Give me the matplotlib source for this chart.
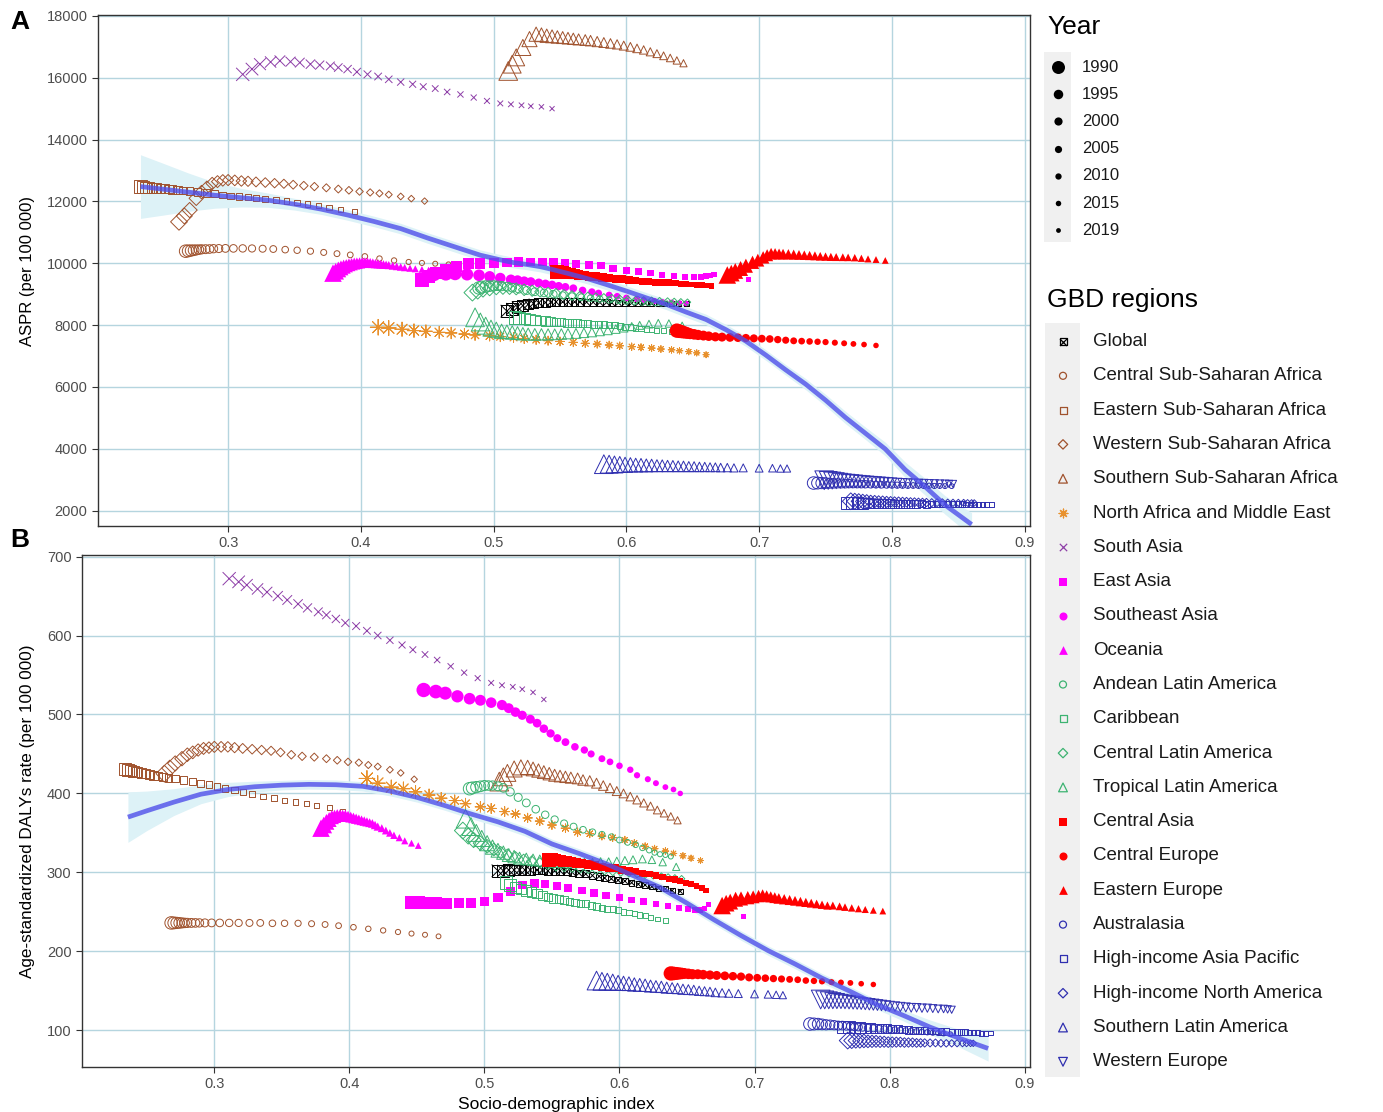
import numpy as np
import matplotlib.pyplot as plt
from matplotlib.patches import Rectangle

plt.rcParams['font.family'] = ['Liberation Sans', 'DejaVu Sans']

years = list(range(1990, 2020))

# ---- data (SDI, ASPR, DALY rate per region, 1990-2019) ----
global_sdi = [0.510, 0.514, 0.518, 0.522, 0.526, 0.530, 0.534, 0.539, 0.543, 0.547, 0.552, 0.556, 0.561, 0.565, 0.570, 0.575, 0.580, 0.585, 0.589, 0.594, 0.599, 0.604, 0.609, 0.614, 0.619, 0.624, 0.629, 0.634, 0.639, 0.645]
global_aspr = [8450, 8520, 8580, 8630, 8670, 8700, 8720, 8730, 8740, 8750, 8750, 8750, 8750, 8750, 8740, 8740, 8730, 8730, 8720, 8720, 8720, 8710, 8710, 8710, 8700, 8700, 8700, 8700, 8700, 8700]
global_daly = [302, 302, 303, 303, 303, 303, 303, 303, 303, 302, 302, 302, 301, 300, 299, 298, 296, 295, 293, 292, 290, 289, 287, 285, 284, 282, 280, 279, 277, 276]

cssa_sdi = [0.268, 0.270, 0.272, 0.274, 0.276, 0.278, 0.280, 0.283, 0.286, 0.289, 0.293, 0.298, 0.304, 0.311, 0.318, 0.326, 0.334, 0.343, 0.352, 0.362, 0.372, 0.382, 0.392, 0.403, 0.414, 0.425, 0.436, 0.446, 0.456, 0.466]
cssa_aspr = [10390, 10400, 10410, 10420, 10430, 10440, 10450, 10455, 10460, 10470, 10475, 10480, 10480, 10480, 10478, 10470, 10460, 10440, 10420, 10390, 10350, 10310, 10270, 10220, 10150, 10090, 10040, 10010, 9985, 9965]
cssa_daly = [236, 236, 236, 236, 236, 236, 236, 236, 236, 236, 236, 236, 236, 236, 236, 236, 236, 235.5, 235.5, 235.5, 235, 234, 232.5, 230.5, 228.5, 226.5, 224.5, 222.5, 221, 219]

essa_sdi = [0.234, 0.236, 0.238, 0.240, 0.243, 0.246, 0.249, 0.252, 0.255, 0.258, 0.262, 0.266, 0.271, 0.277, 0.284, 0.290, 0.296, 0.302, 0.308, 0.315, 0.321, 0.328, 0.336, 0.344, 0.352, 0.360, 0.368, 0.376, 0.385, 0.395]
essa_aspr = [12480, 12470, 12460, 12450, 12440, 12430, 12420, 12410, 12400, 12390, 12370, 12350, 12330, 12300, 12270, 12240, 12210, 12180, 12160, 12140, 12110, 12090, 12050, 12010, 11970, 11920, 11860, 11800, 11740, 11680]
essa_daly = [431, 430, 429, 428, 427, 426, 425, 424, 423, 422, 421, 420, 419, 417, 415, 413, 411, 408.5, 406, 404, 402, 399, 396, 394, 391, 389, 387, 385, 382, 377]

wssa_sdi = [0.263, 0.267, 0.271, 0.276, 0.280, 0.284, 0.288, 0.292, 0.296, 0.300, 0.305, 0.310, 0.315, 0.321, 0.328, 0.335, 0.342, 0.349, 0.357, 0.365, 0.374, 0.383, 0.391, 0.399, 0.407, 0.414, 0.421, 0.430, 0.438, 0.448]
wssa_aspr = [11340, 11530, 11720, 12100, 12300, 12450, 12580, 12640, 12680, 12690, 12680, 12660, 12650, 12630, 12610, 12590, 12570, 12540, 12510, 12480, 12440, 12400, 12360, 12320, 12290, 12260, 12220, 12160, 12090, 12010]
wssa_daly = [425, 432, 438, 444, 449, 452, 455, 457, 458, 459, 459, 459, 458, 457, 456, 455, 454, 452, 449, 447, 446, 444, 442, 440, 439, 436, 434, 430, 426, 418]

sssa_sdi = [0.511, 0.514, 0.517, 0.522, 0.527, 0.532, 0.536, 0.540, 0.544, 0.548, 0.552, 0.556, 0.560, 0.564, 0.569, 0.573, 0.578, 0.583, 0.588, 0.593, 0.598, 0.603, 0.608, 0.613, 0.618, 0.623, 0.628, 0.633, 0.638, 0.643]
sssa_aspr = [16220, 16440, 16660, 16980, 17250, 17410, 17390, 17360, 17340, 17320, 17300, 17280, 17260, 17240, 17220, 17200, 17170, 17140, 17110, 17080, 17040, 17000, 16950, 16900, 16840, 16780, 16710, 16640, 16560, 16470]
sssa_daly = [415, 421, 426, 431, 433, 433, 431, 429, 427, 425, 423, 422, 421, 420, 419, 417, 416, 413, 410, 407, 403, 400, 396, 392, 388, 384, 379, 375, 371, 366]

name_sdi = [0.413, 0.421, 0.431, 0.440, 0.449, 0.459, 0.468, 0.478, 0.486, 0.497, 0.505, 0.515, 0.523, 0.532, 0.541, 0.550, 0.560, 0.569, 0.578, 0.587, 0.595, 0.604, 0.611, 0.619, 0.626, 0.634, 0.640, 0.647, 0.653, 0.660]
name_aspr = [7930, 7905, 7865, 7820, 7800, 7765, 7745, 7710, 7680, 7655, 7625, 7600, 7560, 7525, 7495, 7470, 7440, 7410, 7385, 7355, 7330, 7300, 7280, 7255, 7225, 7200, 7170, 7140, 7100, 7040]
name_daly = [419, 413, 408, 406, 402, 398, 394, 391, 387, 383, 381, 377, 374, 369, 365, 360, 356, 351, 349, 346, 344, 341, 337, 333, 330, 327, 324, 321, 318, 315]

sasia_sdi = [0.311, 0.318, 0.324, 0.332, 0.339, 0.347, 0.354, 0.362, 0.369, 0.377, 0.383, 0.390, 0.397, 0.405, 0.413, 0.421, 0.430, 0.439, 0.447, 0.456, 0.465, 0.475, 0.485, 0.495, 0.505, 0.513, 0.521, 0.528, 0.536, 0.544]
sasia_aspr = [16110, 16280, 16440, 16510, 16550, 16520, 16490, 16440, 16410, 16380, 16330, 16280, 16190, 16110, 16040, 15950, 15860, 15790, 15710, 15650, 15540, 15460, 15360, 15250, 15170, 15140, 15110, 15080, 15060, 15000]
sasia_daly = [672, 668, 664, 659, 655, 650, 645, 640, 635, 630, 626, 621, 616, 612, 606, 600, 594, 588, 582, 576, 569, 561, 553, 546, 540, 537, 535, 532, 528, 519]

easia_sdi = [0.446, 0.451, 0.457, 0.464, 0.472, 0.481, 0.490, 0.500, 0.510, 0.519, 0.528, 0.537, 0.545, 0.554, 0.562, 0.572, 0.581, 0.590, 0.600, 0.609, 0.618, 0.627, 0.636, 0.644, 0.651, 0.656, 0.660, 0.663, 0.666, 0.692]
easia_aspr = [9450, 9570, 9680, 9780, 9880, 9990, 9990, 10000, 10020, 10040, 10040, 10040, 10030, 10000, 9970, 9940, 9930, 9840, 9750, 9720, 9690, 9620, 9580, 9560, 9540, 9560, 9580, 9610, 9640, 9470]
easia_daly = [262, 262, 261, 261, 261, 261, 261, 263, 268, 276, 284, 286, 285, 283, 280, 277, 274, 271, 268, 265, 263, 260, 257, 255, 253, 252, 252, 254, 259, 244]

seasia_sdi = [0.455, 0.464, 0.471, 0.480, 0.489, 0.497, 0.505, 0.513, 0.518, 0.523, 0.528, 0.534, 0.539, 0.544, 0.549, 0.554, 0.560, 0.567, 0.574, 0.579, 0.587, 0.593, 0.600, 0.608, 0.613, 0.621, 0.627, 0.634, 0.640, 0.645]
seasia_aspr = [9650, 9660, 9660, 9640, 9610, 9570, 9520, 9470, 9450, 9420, 9400, 9360, 9330, 9300, 9260, 9230, 9190, 9120, 9070, 9030, 8970, 8930, 8880, 8840, 8810, 8780, 8750, 8730, 8710, 8700]
seasia_daly = [531, 529, 527, 523, 520, 518, 515, 512, 508, 503, 499, 494, 489, 482, 476, 470, 465, 459, 455, 450, 444, 440, 435, 430, 423, 418, 413, 408, 405, 400]

oceania_sdi = [0.379, 0.381, 0.383, 0.385, 0.387, 0.389, 0.391, 0.393, 0.395, 0.397, 0.399, 0.401, 0.403, 0.405, 0.407, 0.409, 0.411, 0.413, 0.415, 0.417, 0.419, 0.421, 0.424, 0.427, 0.430, 0.433, 0.437, 0.441, 0.446, 0.451]
oceania_aspr = [9680, 9740, 9800, 9850, 9890, 9920, 9950, 9970, 9990, 10000, 10010, 10020, 10020, 10020, 10010, 10000, 9990, 9980, 9970, 9960, 9950, 9940, 9920, 9900, 9880, 9860, 9840, 9820, 9800, 9780]
oceania_daly = [356, 360, 364, 367, 370, 371, 372, 372, 372, 372, 371, 370, 369, 368, 367, 366, 365, 364, 363, 362, 360, 358, 356, 353, 350, 347, 344, 340, 337, 334]

andean_sdi = [0.489, 0.491, 0.494, 0.497, 0.500, 0.503, 0.506, 0.510, 0.514, 0.519, 0.525, 0.531, 0.538, 0.545, 0.552, 0.559, 0.566, 0.573, 0.580, 0.587, 0.594, 0.600, 0.606, 0.612, 0.617, 0.622, 0.626, 0.630, 0.634, 0.638]
andean_aspr = [9200, 9230, 9250, 9260, 9270, 9270, 9260, 9240, 9210, 9170, 9120, 9080, 9040, 9000, 8960, 8930, 8900, 8870, 8840, 8810, 8790, 8770, 8750, 8730, 8720, 8710, 8700, 8690, 8690, 8680]
andean_daly = [406, 407, 408, 409, 410, 410, 410, 409, 407, 402, 395, 388, 380, 373, 367, 362, 358, 354, 351, 348, 345, 341, 338, 335, 331, 328, 325, 323, 322, 320]

carib_sdi = [0.516, 0.519, 0.523, 0.527, 0.531, 0.535, 0.539, 0.543, 0.547, 0.551, 0.555, 0.559, 0.563, 0.567, 0.571, 0.575, 0.579, 0.583, 0.587, 0.591, 0.595, 0.599, 0.603, 0.607, 0.611, 0.615, 0.619, 0.623, 0.628, 0.634]
carib_aspr = [8250, 8230, 8210, 8190, 8170, 8150, 8130, 8120, 8100, 8090, 8080, 8070, 8060, 8050, 8040, 8030, 8020, 8010, 8000, 7990, 7970, 7950, 7930, 7910, 7890, 7870, 7850, 7830, 7810, 7790]
carib_daly = [287, 284, 281, 279, 277, 275, 273, 271, 269, 267, 266, 265, 263, 262, 261, 260, 258, 257, 255, 254, 253, 252, 250, 249, 248, 246, 245, 243, 241, 239]

clatam_sdi = [0.484, 0.488, 0.492, 0.497, 0.502, 0.507, 0.512, 0.517, 0.523, 0.529, 0.535, 0.541, 0.547, 0.553, 0.559, 0.565, 0.571, 0.577, 0.583, 0.589, 0.595, 0.601, 0.607, 0.613, 0.619, 0.625, 0.631, 0.636, 0.641, 0.646]
clatam_aspr = [9050, 9100, 9150, 9180, 9200, 9200, 9190, 9170, 9140, 9110, 9080, 9050, 9020, 8990, 8960, 8940, 8920, 8900, 8880, 8860, 8840, 8820, 8810, 8800, 8790, 8780, 8770, 8760, 8750, 8740]
clatam_daly = [353, 346, 341, 337, 333, 329, 325, 322, 319, 316, 314, 312, 310, 308, 307, 306, 305, 304, 303, 302, 301, 300, 299, 298, 297, 296, 295, 294, 293, 292]

tlatam_sdi = [0.486, 0.490, 0.494, 0.498, 0.502, 0.506, 0.510, 0.514, 0.518, 0.522, 0.526, 0.531, 0.536, 0.541, 0.546, 0.551, 0.556, 0.562, 0.568, 0.574, 0.580, 0.586, 0.592, 0.598, 0.604, 0.610, 0.617, 0.624, 0.632, 0.642]
tlatam_aspr = [8250, 8100, 7980, 7900, 7850, 7800, 7780, 7760, 7740, 7720, 7710, 7700, 7700, 7700, 7700, 7710, 7720, 7730, 7750, 7770, 7800, 7830, 7870, 7910, 7950, 7990, 8030, 8060, 8050, 7980]
tlatam_daly = [368, 358, 350, 343, 337, 332, 328, 325, 322, 320, 318, 317, 316, 315, 314, 313, 313, 312, 312, 312, 312, 313, 313, 314, 315, 316, 317, 316, 313, 307]

casia_sdi = [0.548, 0.550, 0.552, 0.554, 0.556, 0.558, 0.561, 0.564, 0.568, 0.572, 0.577, 0.582, 0.587, 0.592, 0.597, 0.602, 0.607, 0.612, 0.617, 0.622, 0.627, 0.632, 0.637, 0.641, 0.645, 0.649, 0.653, 0.657, 0.661, 0.664]
casia_aspr = [9720, 9710, 9700, 9690, 9680, 9670, 9650, 9630, 9600, 9580, 9560, 9540, 9520, 9500, 9480, 9460, 9440, 9420, 9400, 9390, 9380, 9370, 9360, 9340, 9330, 9310, 9300, 9290, 9280, 9260]
casia_daly = [316, 316, 316, 315, 315, 314, 314, 313, 312, 311, 310, 309, 307, 306, 305, 303, 302, 301, 299, 298, 296, 294, 292, 291, 289, 287, 285, 283, 280, 277]

ceur_sdi = [0.638, 0.640, 0.642, 0.644, 0.646, 0.648, 0.651, 0.654, 0.658, 0.662, 0.667, 0.672, 0.678, 0.684, 0.690, 0.696, 0.702, 0.708, 0.714, 0.720, 0.726, 0.732, 0.738, 0.744, 0.750, 0.757, 0.764, 0.771, 0.779, 0.788]
ceur_aspr = [7820, 7800, 7780, 7760, 7740, 7720, 7700, 7680, 7660, 7640, 7620, 7610, 7600, 7590, 7580, 7570, 7560, 7550, 7530, 7510, 7490, 7480, 7470, 7460, 7450, 7430, 7410, 7390, 7370, 7340]
ceur_daly = [172, 172, 172, 172, 172, 172, 171.5, 171, 171, 170.5, 170, 169.5, 169, 168.5, 168, 167, 166.5, 166, 165.5, 165, 164.5, 164, 163, 162.5, 162, 161, 160.5, 160, 159, 158]

eeur_sdi = [0.676, 0.679, 0.682, 0.686, 0.690, 0.695, 0.699, 0.703, 0.706, 0.709, 0.712, 0.715, 0.718, 0.722, 0.726, 0.730, 0.734, 0.738, 0.742, 0.746, 0.750, 0.754, 0.758, 0.763, 0.767, 0.772, 0.777, 0.782, 0.788, 0.795]
eeur_aspr = [9620, 9680, 9750, 9830, 9920, 10030, 10100, 10190, 10260, 10310, 10310, 10300, 10295, 10290, 10280, 10270, 10260, 10250, 10240, 10225, 10215, 10205, 10200, 10195, 10190, 10180, 10160, 10140, 10120, 10090]
eeur_daly = [258, 261, 263, 266, 267, 268, 269, 270, 271, 270, 269, 268, 267, 266, 265, 264, 263, 262, 261, 260, 259, 258, 258, 257, 256, 255, 254, 253, 252, 251]

austral_sdi = [0.741, 0.744, 0.747, 0.750, 0.753, 0.756, 0.759, 0.762, 0.765, 0.768, 0.771, 0.774, 0.777, 0.780, 0.784, 0.788, 0.792, 0.796, 0.800, 0.804, 0.808, 0.812, 0.816, 0.820, 0.824, 0.828, 0.832, 0.836, 0.840, 0.845]
austral_aspr = [2890, 2890, 2890, 2890, 2885, 2880, 2880, 2875, 2870, 2870, 2865, 2860, 2855, 2850, 2845, 2840, 2835, 2830, 2825, 2820, 2815, 2810, 2810, 2805, 2800, 2800, 2795, 2795, 2790, 2790]
austral_daly = [108, 108, 108, 107.5, 107, 107, 106.5, 106, 106, 105.5, 105, 104.5, 104, 103.5, 103, 102.5, 102, 101.5, 101, 100.5, 100, 99.5, 99, 98.5, 98, 97.5, 97, 96.5, 96, 95]

hiap_sdi = [0.766, 0.770, 0.774, 0.778, 0.782, 0.786, 0.790, 0.794, 0.798, 0.802, 0.806, 0.810, 0.814, 0.818, 0.822, 0.826, 0.830, 0.834, 0.838, 0.842, 0.846, 0.850, 0.853, 0.856, 0.859, 0.862, 0.865, 0.868, 0.871, 0.875]
hiap_aspr = [2240, 2240, 2240, 2235, 2235, 2230, 2230, 2225, 2225, 2220, 2220, 2220, 2215, 2215, 2215, 2210, 2210, 2210, 2210, 2205, 2205, 2205, 2205, 2200, 2200, 2200, 2200, 2200, 2200, 2200]
hiap_daly = [104, 104, 103.5, 103.5, 103, 103, 102.5, 102, 102, 101.5, 101, 101, 100.5, 100, 100, 99.5, 99, 99, 98.5, 98.5, 98, 98, 97.5, 97.5, 97, 97, 97, 96.5, 96.5, 96.5]

hina_sdi = [0.769, 0.772, 0.775, 0.778, 0.781, 0.784, 0.787, 0.790, 0.793, 0.796, 0.799, 0.802, 0.805, 0.808, 0.811, 0.814, 0.817, 0.820, 0.823, 0.826, 0.830, 0.834, 0.838, 0.842, 0.846, 0.850, 0.854, 0.857, 0.860, 0.862]
hina_aspr = [2300, 2300, 2300, 2295, 2295, 2290, 2290, 2285, 2285, 2280, 2280, 2275, 2275, 2270, 2270, 2265, 2265, 2260, 2260, 2260, 2255, 2255, 2255, 2250, 2250, 2250, 2250, 2245, 2245, 2245]
hina_daly = [87, 87, 87, 86.5, 86.5, 86, 86, 86, 85.5, 85.5, 85, 85, 85, 85, 84.5, 84.5, 84.5, 84, 84, 84, 84, 84, 83.5, 83.5, 83.5, 83.5, 83.5, 83.5, 83.5, 83.5]

slatam_sdi = [0.583, 0.587, 0.591, 0.595, 0.599, 0.603, 0.607, 0.611, 0.615, 0.619, 0.623, 0.627, 0.631, 0.635, 0.639, 0.643, 0.647, 0.651, 0.655, 0.659, 0.663, 0.667, 0.671, 0.676, 0.681, 0.688, 0.700, 0.710, 0.716, 0.721]
slatam_aspr = [3500, 3500, 3490, 3490, 3480, 3480, 3470, 3470, 3460, 3460, 3450, 3450, 3440, 3440, 3430, 3430, 3420, 3420, 3410, 3410, 3400, 3400, 3390, 3390, 3380, 3380, 3370, 3370, 3360, 3360]
slatam_daly = [163, 162, 161.5, 161, 160, 159.5, 159, 158, 157.5, 157, 156, 155.5, 155, 154, 153.5, 153, 152, 151.5, 151, 150, 149.5, 149, 148, 147.5, 147, 146.5, 146, 145.5, 145, 144.5]

weur_sdi = [0.749, 0.752, 0.755, 0.758, 0.761, 0.764, 0.767, 0.770, 0.773, 0.776, 0.779, 0.782, 0.785, 0.788, 0.791, 0.794, 0.797, 0.800, 0.804, 0.808, 0.812, 0.816, 0.820, 0.824, 0.828, 0.832, 0.836, 0.840, 0.843, 0.846]
weur_aspr = [2980, 2975, 2970, 2965, 2960, 2955, 2950, 2945, 2940, 2935, 2930, 2925, 2920, 2915, 2910, 2905, 2900, 2895, 2890, 2885, 2880, 2880, 2875, 2875, 2870, 2870, 2865, 2865, 2860, 2860]
weur_daly = [139, 138.5, 138, 137.5, 137, 136.5, 136, 135.5, 135, 134.5, 134, 133.5, 133, 132.5, 132, 131.5, 131, 130.5, 130, 129.5, 129, 128.5, 128.5, 128, 128, 127.5, 127, 127, 126.5, 126]

# smoothed fit with confidence band
fit_a_x = [0.234, 0.25, 0.27, 0.29, 0.31, 0.33, 0.35, 0.37, 0.39, 0.41, 0.43, 0.45, 0.47, 0.49, 0.505, 0.515, 0.525, 0.535, 0.545, 0.556, 0.57, 0.585, 0.60, 0.615, 0.63, 0.645, 0.66, 0.675, 0.69, 0.705, 0.72, 0.735, 0.75, 0.765, 0.78, 0.795, 0.81, 0.825, 0.84, 0.86]
fit_a_y = [12480, 12400, 12300, 12200, 12120, 12040, 11910, 11750, 11560, 11350, 11120, 10820, 10540, 10260, 10110, 10020, 9960, 9890, 9790, 9670, 9510, 9310, 9100, 8880, 8670, 8420, 8180, 7850, 7480, 7030, 6550, 6090, 5570, 5010, 4500, 3990, 3320, 2770, 2180, 1550]
fit_a_lo = [11450, 11550, 11680, 11780, 11820, 11810, 11720, 11580, 11390, 11180, 10950, 10650, 10370, 10090, 9940, 9850, 9790, 9720, 9620, 9500, 9340, 9140, 8930, 8710, 8500, 8250, 8010, 7680, 7310, 6860, 6380, 5910, 5380, 4810, 4300, 3770, 3070, 2500, 1880, 1170]
fit_a_hi = [13510, 13250, 12920, 12620, 12420, 12270, 12100, 11920, 11730, 11520, 11290, 10990, 10710, 10430, 10280, 10190, 10130, 10060, 9960, 9840, 9680, 9480, 9270, 9050, 8840, 8590, 8350, 8020, 7650, 7200, 6720, 6270, 5760, 5210, 4700, 4210, 3570, 3040, 2480, 1930]

fit_b_x = [0.236, 0.25, 0.27, 0.29, 0.31, 0.33, 0.35, 0.37, 0.39, 0.41, 0.43, 0.45, 0.47, 0.49, 0.51, 0.53, 0.55, 0.57, 0.59, 0.61, 0.63, 0.65, 0.67, 0.69, 0.71, 0.73, 0.75, 0.77, 0.79, 0.81, 0.83, 0.85, 0.873]
fit_b_y = [370, 378, 389, 399, 405, 408.5, 410.5, 411.5, 411, 409, 403, 395, 385, 374, 364, 352, 336, 324, 311, 296, 281, 261, 240, 220, 201, 184, 166, 150, 133, 119, 104, 91, 77]
fit_b_lo = [338, 353, 372, 387, 396, 401.5, 404.5, 405.5, 405, 403, 397, 389, 379, 368, 358, 346, 330, 318, 305, 290, 275, 255, 234, 214, 195, 178, 160, 144, 127, 112, 95, 80, 61]
fit_b_hi = [402, 403, 406, 411, 414, 415.5, 416.5, 417.5, 417, 415, 409, 401, 391, 380, 370, 358, 342, 330, 317, 302, 287, 267, 246, 226, 207, 190, 172, 156, 139, 126, 113, 102, 93]

regions = [
    ('Global', global_sdi, global_aspr, global_daly),
    ('Central Sub-Saharan Africa', cssa_sdi, cssa_aspr, cssa_daly),
    ('Eastern Sub-Saharan Africa', essa_sdi, essa_aspr, essa_daly),
    ('Western Sub-Saharan Africa', wssa_sdi, wssa_aspr, wssa_daly),
    ('Southern Sub-Saharan Africa', sssa_sdi, sssa_aspr, sssa_daly),
    ('North Africa and Middle East', name_sdi, name_aspr, name_daly),
    ('South Asia', sasia_sdi, sasia_aspr, sasia_daly),
    ('East Asia', easia_sdi, easia_aspr, easia_daly),
    ('Southeast Asia', seasia_sdi, seasia_aspr, seasia_daly),
    ('Oceania', oceania_sdi, oceania_aspr, oceania_daly),
    ('Andean Latin America', andean_sdi, andean_aspr, andean_daly),
    ('Caribbean', carib_sdi, carib_aspr, carib_daly),
    ('Central Latin America', clatam_sdi, clatam_aspr, clatam_daly),
    ('Tropical Latin America', tlatam_sdi, tlatam_aspr, tlatam_daly),
    ('Central Asia', casia_sdi, casia_aspr, casia_daly),
    ('Central Europe', ceur_sdi, ceur_aspr, ceur_daly),
    ('Eastern Europe', eeur_sdi, eeur_aspr, eeur_daly),
    ('Australasia', austral_sdi, austral_aspr, austral_daly),
    ('High-income Asia Pacific', hiap_sdi, hiap_aspr, hiap_daly),
    ('High-income North America', hina_sdi, hina_aspr, hina_daly),
    ('Southern Latin America', slatam_sdi, slatam_aspr, slatam_daly),
    ('Western Europe', weur_sdi, weur_aspr, weur_daly),
]

legend_years = [1990, 1995, 2000, 2005, 2010, 2015, 2019]

# ---- styles ----
BROWN = '#A0522D'
ORANGE = '#E8912D'
PURPLE = '#8E3FA8'
MAGENTA = '#FF00FF'
GREEN = '#3CB371'
RED = '#FF0000'
BLUE = '#2F2FB0'

# marker, colour, kind (open / filled / line), size factor
styles = {
    'Global': ('global', 'black', 'open', 1.0),
    'Central Sub-Saharan Africa': ('o', BROWN, 'open', 1.0),
    'Eastern Sub-Saharan Africa': ('s', BROWN, 'open', 1.0),
    'Western Sub-Saharan Africa': ('D', BROWN, 'open', 0.95),
    'Southern Sub-Saharan Africa': ('^', BROWN, 'open', 1.5),
    'North Africa and Middle East': ((8, 2, 0), ORANGE, 'line', 1.25),
    'South Asia': ('x', PURPLE, 'line', 1.05),
    'East Asia': ('s', MAGENTA, 'filled', 1.1),
    'Southeast Asia': ('o', MAGENTA, 'filled', 1.15),
    'Oceania': ('^', MAGENTA, 'filled', 1.4),
    'Andean Latin America': ('o', GREEN, 'open', 1.0),
    'Caribbean': ('s', GREEN, 'open', 1.0),
    'Central Latin America': ('D', GREEN, 'open', 0.95),
    'Tropical Latin America': ('^', GREEN, 'open', 1.5),
    'Central Asia': ('s', RED, 'filled', 1.1),
    'Central Europe': ('o', RED, 'filled', 1.15),
    'Eastern Europe': ('^', RED, 'filled', 1.4),
    'Australasia': ('o', BLUE, 'open', 1.0),
    'High-income Asia Pacific': ('s', BLUE, 'open', 1.0),
    'High-income North America': ('D', BLUE, 'open', 0.95),
    'Southern Latin America': ('^', BLUE, 'open', 1.5),
    'Western Europe': ('v', BLUE, 'open', 1.5),
}

size_px = np.interp(years, legend_years, [12.5, 9.5, 8.0, 7.0, 6.0, 5.3, 4.8])


def draw_marks(ax, x, y, s, style, lw=0.7, z=3):
    marker, color, kind, k = style
    if marker == 'global':
        ax.scatter(x, y, s=s, marker='s', facecolors='none', edgecolors=color, linewidths=lw, zorder=z)
        ax.scatter(x, y, s=s, marker='x', c=color, linewidths=lw, zorder=z)
    elif kind == 'filled':
        ax.scatter(x, y, s=s, marker=marker, c=color, linewidths=0, zorder=z)
    elif kind == 'line':
        ax.scatter(x, y, s=s, marker=marker, c=color, linewidths=lw, zorder=z)
    else:
        ax.scatter(x, y, s=s, marker=marker, facecolors='none', edgecolors=color, linewidths=lw, zorder=z)


def style_axes(ax, yticks, ylim):
    ax.set_xlim(0.202, 0.904)
    ax.set_ylim(*ylim)
    ax.set_xticks([0.3, 0.4, 0.5, 0.6, 0.7, 0.8, 0.9])
    ax.set_xticklabels(['0.3', '0.4', '0.5', '0.6', '0.7', '0.8', '0.9'])
    ax.set_yticks(yticks)
    ax.grid(True, color='#B5D5DF', linewidth=1.0)
    ax.set_axisbelow(True)
    for sp in ax.spines.values():
        sp.set_color('#333333')
        sp.set_linewidth(1.0)
    ax.tick_params(labelsize=10.5, labelcolor='#4D4D4D', color='#333333', length=4, width=0.8)


fig = plt.figure(figsize=(13.83, 11.12), dpi=100)
ax_a = fig.add_axes([98 / 1383, 1 - 526 / 1112, 932 / 1383, 511 / 1112])
ax_b = fig.add_axes([82 / 1383, 1 - 1067 / 1112, 948 / 1383, 512 / 1112])

for ax, fx, fy, flo, fhi, col in [(ax_a, fit_a_x, fit_a_y, fit_a_lo, fit_a_hi, 2),
                                   (ax_b, fit_b_x, fit_b_y, fit_b_lo, fit_b_hi, 3)]:
    ax.fill_between(fx, flo, fhi, color='#DDF2F7', linewidth=0, zorder=1)
    for name, sdi, aspr, daly in regions:
        vals = aspr if col == 2 else daly
        k = styles[name][3]
        draw_marks(ax, sdi, vals, (size_px * 0.72 * k) ** 2, styles[name])
    ax.plot(fx, fy, color='#4F4FEA', lw=3.4, alpha=0.8, solid_capstyle='butt', zorder=4)

style_axes(ax_a, [2000, 4000, 6000, 8000, 10000, 12000, 14000, 16000, 18000], (1500, 18030))
style_axes(ax_b, [100, 200, 300, 400, 500, 600, 700], (53.5, 702))

ax_a.set_ylabel('ASPR (per 100 000)', fontsize=12)
ax_a.yaxis.set_label_coords(-0.068, 0.5)
ax_b.set_ylabel('Age-standardized DALYs rate (per 100 000)', fontsize=12.3)
ax_b.yaxis.set_label_coords(-0.050, 0.5)
ax_b.set_xlabel('Socio-demographic index', fontsize=12.5, labelpad=4)

fig.text(10 / 1383, 1 - 22 / 1112, 'A', fontsize=19, fontweight='bold', va='center', ha='left')
fig.text(10 / 1383, 1 - 540 / 1112, 'B', fontsize=19, fontweight='bold', va='center', ha='left')

# ---- legends, drawn in pixel coordinates ----
lg = fig.add_axes([1035 / 1383, 0, 348 / 1383, 1])
lg.set_xlim(1035, 1383)
lg.set_ylim(1112, 0)
lg.axis('off')

lg.text(1047, 27, 'Year', fontsize=19, va='center', ha='left')
lg.add_patch(Rectangle((1044, 52), 27, 190, color='#F0F0F0', lw=0))
key_px = [13, 9.5, 8.2, 7.2, 6.3, 5.5, 4.8]
for i, yr in enumerate(legend_years):
    yy = 67 + i * 27.2
    lg.scatter([1058], [yy], s=(key_px[i] * 0.72) ** 2, c='black', linewidths=0)
    lg.text(1082, yy, str(yr), fontsize=12, va='center', ha='left', color='#1A1A1A')

lg.text(1047, 300, 'GBD regions', fontsize=19, va='center', ha='left')
lg.add_patch(Rectangle((1045, 323), 35, 754, color='#F0F0F0', lw=0))
for i, (name, sdi, aspr, daly) in enumerate(regions):
    yy = 341.5 + i * 34.3
    k = styles[name][3]
    draw_marks(lg, [1063], [yy], (7 * 0.72 * min(k, 1.25)) ** 2, styles[name], lw=0.9)
    lg.text(1093, yy, name, fontsize=13.5, va='center', ha='left', color='#1A1A1A')

fig.savefig('out.png', dpi=100)
